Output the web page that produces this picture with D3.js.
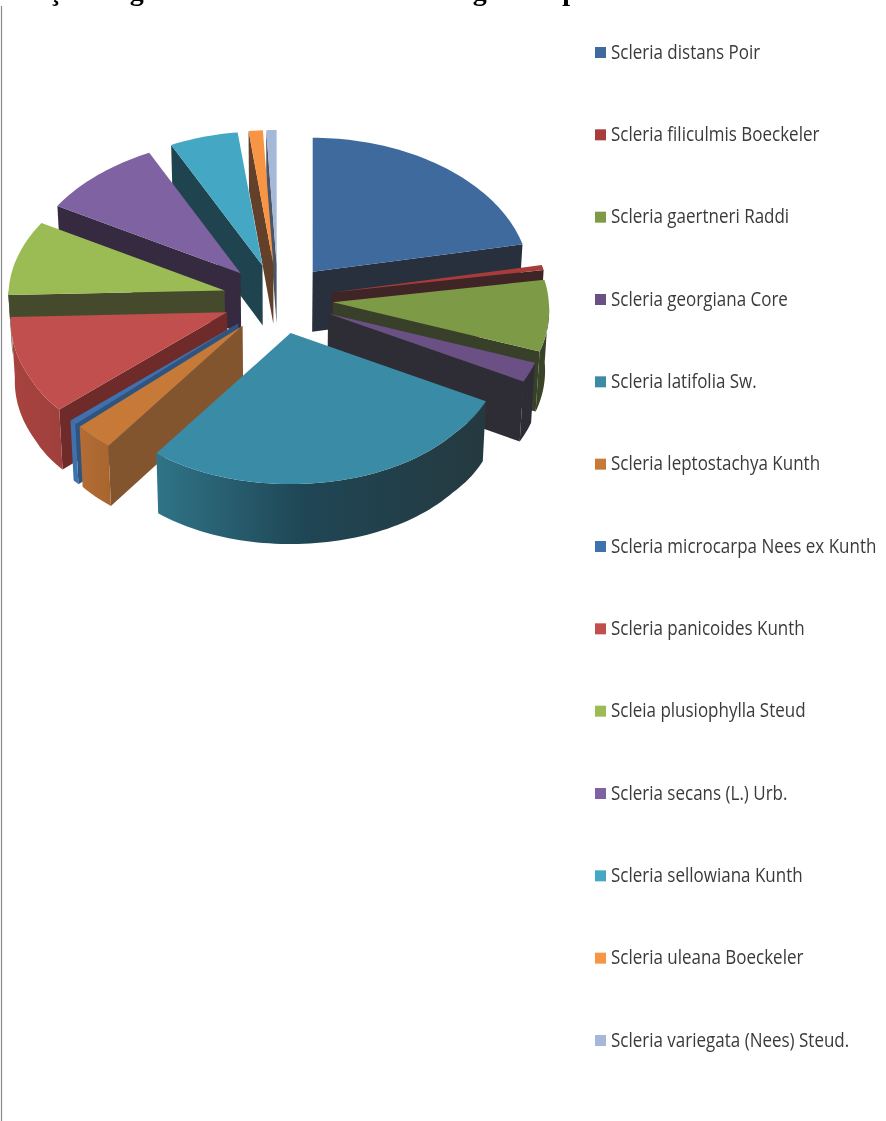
<!DOCTYPE html>
<meta charset="utf-8">
<script src="https://d3js.org/d3.v7.min.js"></script>
<style>
  body { margin: 0; background: #fff; }
</style>
<div id="my_dataviz"></div>
<script>
// percentages
const species = ["Scleria distans Poir", "Scleria filiculmis Boeckeler", "Scleria gaertneri Raddi",
  "Scleria georgiana Core", "Scleria latifolia Sw.", "Scleria leptostachya Kunth",
  "Scleria microcarpa Nees ex Kunth", "Scleria panicoides Kunth", "Scleia plusiophylla Steud",
  "Scleria secans (L.) Urb.", "Scleria sellowiana Kunth", "Scleria uleana Boeckeler",
  "Scleria variegata (Nees) Steud."];
const shares = [21.7, 0.6, 8.3, 2.3, 26.8, 2.8, 0.55, 11.4, 8.9, 9.4, 5.3, 1.1, 0.8];
const topColors = ["#3f6a9e", "#a83c3a", "#7d9a47", "#6a5084", "#3a8ba6", "#c77a38", "#3e72ae",
  "#c04f4d", "#9bbb55", "#7e62a1", "#44a7c4", "#f79545", "#a6b8d8"];
const cutColors = ["#27303c", "#3f2526", "#39402a", "#2e2c35", "#26383f", "#83552f", "#2f5480",
  "#6f2a2a", "#464a2c", "#352a40", "#20444f", "#63402a", "#4a5568"];
const wallLeft = ["#27303c", "#3f2526", "#3a4428", "#2e2c35", "#2f7488", "#b56c35", "#3e72ae",
  "#a8433f", "#464a2c", "#352a40", "#20444f", "#63402a", "#4a5568"];
const wallRight = ["#27303c", "#3f2526", "#39402a", "#2e2c35", "#25393f", "#a8662f", "#3e72ae",
  "#a0403d", "#464a2c", "#352a40", "#20444f", "#63402a", "#4a5568"];

const width = 886, height = 1121;
const svg = d3.select("#my_dataviz").append("svg")
  .attr("width", width).attr("height", height)
  .style("display", "block")
  .style("filter", "blur(0.5px)");
const defs = svg.append("defs");

// caption of the page, cut off by the top of the image
svg.append("text")
  .attr("x", 2).attr("y", 0)
  .style("font", "bold 28px 'Liberation Serif'")
  .text("coleções registradas no banco de dados gerado por este trabalho.");

// page rule on the left
svg.append("line")
  .attr("x1", 1.5).attr("x2", 1.5).attr("y1", 6).attr("y2", height)
  .style("stroke", "#8a8a8a").style("stroke-width", 1.2);

// pie geometry, the back of the ellipse is flatter and narrower than the front
const cx = 278, cy = 299, depth = 60;
const unit = d3.scaleLinear().domain([-1, 1]);
const rxByDepth = d3.scaleLinear().domain([-1, -0.47, 0, 1]).range([240, 222, 216, 208]);
const sy = d3.scaleLinear().domain([-1, -0.7, 0, 1]).range([cy + 151, cy + 100, cy, cy - 134]);
const offX = unit.copy().range([-55, 55]);
const offY = unit.copy().range([35, -35]);

const pie = d3.pie().sort(null).value(d => d)(shares);
const line = d3.line().x(d => d[0]).y(d => d[1]);

function project(a, r, off) {
  const c = Math.cos(a);
  return [cx + r * Math.sin(a) * rxByDepth(c) + offX(Math.sin(off)), sy(r * c) + offY(Math.cos(off))];
}
// the lower face of the pie sits a little closer to the middle
const down = (p, h = depth) => [p[0] + (cx - p[0]) * 0.015 * h / depth, p[1] + h];

const slices = pie.map((d, i) => {
  const mid = (d.startAngle + d.endAngle) / 2;
  return {i, start: d.startAngle, end: d.endAngle, mid};
}).sort((a, b) => Math.cos(b.mid) - Math.cos(a.mid));

const g = svg.append("g");
slices.forEach(s => {
  const apex = project(0, 0, s.mid);
  const n = Math.max(2, Math.ceil((s.end - s.start) * 40));
  const rim = d3.range(n + 1).map(k => project(s.start + (s.end - s.start) * k / n, 1, s.mid));

  // cut faces that look towards the viewer
  // plusiophylla only shows the band above the panicoides slice
  const cutDepth = s.i === 8 ? 24 : depth;
  if (Math.sin(s.start) < 0) {
    g.append("path").attr("d", line([apex, rim[0], down(rim[0], cutDepth), down(apex, cutDepth)]) + "Z")
      .style("fill", cutColors[s.i]);
  }
  if (Math.sin(s.end) > 0) {
    g.append("path").attr("d", line([apex, rim[n], down(rim[n]), down(apex)]) + "Z")
      .style("fill", cutColors[s.i]);
  }

  // outer wall, only the part on the front half
  const a0 = Math.max(s.start, Math.PI / 2), a1 = Math.min(s.end, Math.PI * 1.5);
  if (a1 > a0) {
    const m = Math.max(2, Math.ceil((a1 - a0) * 40));
    const arc = d3.range(m + 1).map(k => project(a0 + (a1 - a0) * k / m, 1, s.mid));
    const xs = d3.extent(arc, p => p[0]);
    const id = "wall" + s.i;
    const grad = defs.append("linearGradient").attr("id", id)
      .attr("gradientUnits", "userSpaceOnUse")
      .attr("x1", xs[0]).attr("x2", xs[1]).attr("y1", 0).attr("y2", 0);
    grad.append("stop").attr("offset", 0).attr("stop-color", wallLeft[s.i]);
    if (s.i === 4) grad.append("stop").attr("offset", 0.45).attr("stop-color", "#1f4655");
    grad.append("stop").attr("offset", 1).attr("stop-color", wallRight[s.i]);
    g.append("path").attr("d", line(arc.concat(arc.slice().reverse().map(p => down(p)))) + "Z")
      .style("fill", `url(#${id})`);
  }

  g.append("path").attr("d", line([apex].concat(rim)) + "Z")
    .style("fill", topColors[s.i]);
});

// legend
const ly = d3.scalePoint().domain(species).range([52, 1040]);
const legend = svg.selectAll("g.legend").data(species).join("g")
  .attr("class", "legend")
  .attr("transform", d => `translate(595, ${ly(d)})`);
legend.append("rect")
  .attr("x", 0).attr("y", -5).attr("width", 11).attr("height", 11)
  .style("fill", (d, i) => topColors[i]);
legend.append("text")
  .attr("transform", "translate(16, 6.5) scale(0.85, 1)")
  .style("font", "20px 'Open Sans'")
  .style("fill", "#3a3a3a")
  .text(d => d);
</script>
